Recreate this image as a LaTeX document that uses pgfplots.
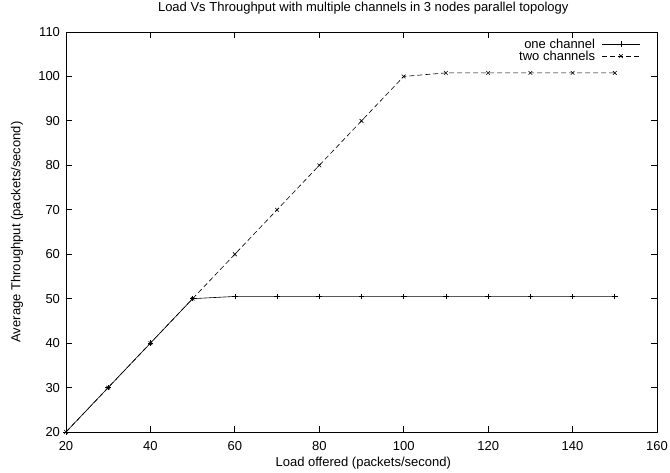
\documentclass[border=0pt]{standalone}
\usepackage{pgfplots}
\pgfplotsset{compat=1.18}
\usepackage{fontspec}
\setmainfont{Liberation Sans}
\begin{document}
\begin{tikzpicture}[font=\fontsize{13}{14}\selectfont]
\begin{axis}[
  name=ax,
  scale only axis,
  width=591pt, height=400pt,
  xmin=20, xmax=160, ymin=20, ymax=110,
  xtick={20,40,...,160}, ytick={20,30,...,110},
  tick align=inside,
  major tick length=6pt,
  /pgf/number format/assume math mode=true,
  yticklabel style={xshift=-2.5pt},
  xticklabel style={yshift=-6pt},
  title={Load Vs Throughput with multiple channels in 3 nodes parallel topology},
  title style={at={(axis description cs:0.503,1.045)}, anchor=center, inner sep=0pt},
  xlabel={Load offered (packets/second)},
  xlabel style={at={(axis description cs:0.503,-0.0775)}, anchor=center, inner sep=0pt},
  ylabel={Average Throughput (packets/second)},
  ylabel style={at={(axis description cs:-0.083,0.5)}, anchor=center, inner sep=0pt},
  legend style={draw=none, fill=none, at={(rel axis cs:0.977,0.99)}, anchor=north east,
    nodes={inner sep=0.5pt}, row sep=0pt, column sep=6pt},
  legend cell align=right,
  legend plot pos=right,
  legend image code/.code={\draw[mark repeat=2,mark phase=2,#1] plot coordinates {(0pt,0pt)(19pt,0pt)(38pt,0pt)};},
  axis line style={line width=0.8pt},
  every tick/.style={line width=0.8pt, black},
]
\addplot[black, mark=+, mark size=2.8pt, line width=0.6pt] coordinates {
(20,20) (30,30) (40,40) (50,50) (60,50.5) (70,50.5) (80,50.5) (90,50.5) (100,50.5)
(110,50.5) (120,50.5) (130,50.5) (140,50.5) (150,50.5)};
\addlegendentry{one channel}
\addplot[black, dash pattern=on 5pt off 3pt, mark=x, mark size=2.6pt, line width=0.6pt, mark options={solid}] coordinates {
(20,20) (30,30) (40,40) (50,50) (60,60) (70,70) (80,80) (90,90) (100,100)
(110,100.8) (120,100.8) (130,100.8) (140,100.8) (150,100.8)};
\addlegendentry{two channels}
\end{axis}
\pgfresetboundingbox
\useasboundingbox ([xshift=-66pt,yshift=-40pt]ax.south west) rectangle ([xshift=13pt,yshift=32pt]ax.north east);
\end{tikzpicture}
\end{document}
